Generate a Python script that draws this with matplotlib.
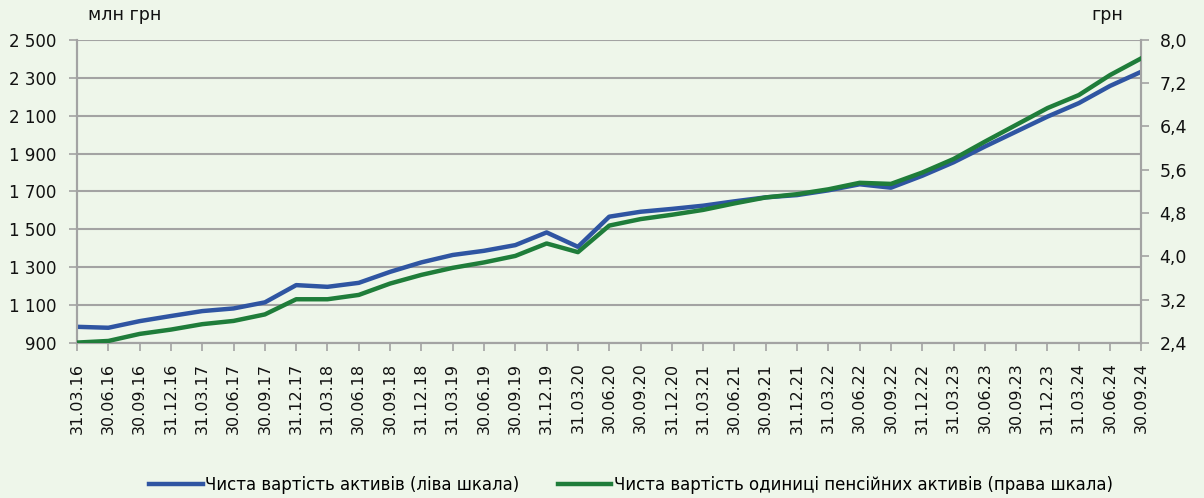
import matplotlib
matplotlib.use("Agg")
import matplotlib.pyplot as plt
from matplotlib.ticker import FixedLocator

dates = ["31.03.16", "30.06.16", "30.09.16", "31.12.16",
         "31.03.17", "30.06.17", "30.09.17", "31.12.17",
         "31.03.18", "30.06.18", "30.09.18", "31.12.18",
         "31.03.19", "30.06.19", "30.09.19", "31.12.19",
         "31.03.20", "30.06.20", "30.09.20", "31.12.20",
         "31.03.21", "30.06.21", "30.09.21", "31.12.21",
         "31.03.22", "30.06.22", "30.09.22", "31.12.22",
         "31.03.23", "30.06.23", "30.09.23", "31.12.23",
         "31.03.24", "30.06.24", "30.09.24"]

net_assets = [986, 981, 1016, 1043, 1069, 1083, 1115, 1206, 1197, 1218,
              1276, 1326, 1365, 1387, 1417, 1484, 1408, 1567, 1593, 1608,
              1625, 1648, 1669, 1681, 1706, 1738, 1720, 1783, 1854, 1937,
              2016, 2095, 2166, 2257, 2332]

unit_value = [2.41, 2.44, 2.57, 2.65, 2.75, 2.81, 2.93, 3.21, 3.21, 3.29,
              3.50, 3.66, 3.79, 3.89, 4.01, 4.24, 4.08, 4.57, 4.69, 4.77,
              4.86, 4.98, 5.09, 5.15, 5.24, 5.36, 5.34, 5.55, 5.80, 6.12,
              6.43, 6.74, 6.98, 7.35, 7.66]

left_ticks = [900, 1100, 1300, 1500, 1700, 1900, 2100, 2300, 2500]
left_labels = ["900", "1 100", "1 300", "1 500", "1 700", "1 900", "2 100", "2 300", "2 500"]
right_ticks = [2.4, 3.2, 4.0, 4.8, 5.6, 6.4, 7.2, 8.0]
right_labels = ["2,4", "3,2", "4,0", "4,8", "5,6", "6,4", "7,2", "8,0"]

label_left = "Чиста вартість активів (ліва шкала)"
label_right = "Чиста вартість одиниці пенсійних активів (права шкала)"

BG = "#EEF6EA"
BLUE = "#2F55A2"
GREEN = "#1F7D3A"
GRID = "#A3A3A3"

fig = plt.figure(figsize=(12.04, 4.98), dpi=100, facecolor=BG)
ax = fig.add_axes([0.064, 0.311, 0.884, 0.609])
ax.set_facecolor(BG)
ax2 = ax.twinx()

x = list(range(len(dates)))
l1, = ax.plot(x, net_assets, color=BLUE, lw=3.2, solid_joinstyle="round", zorder=3)
l2, = ax2.plot(x, unit_value, color=GREEN, lw=3.2, solid_joinstyle="round", zorder=3)

ax.set_xlim(0, len(dates) - 1)
ax.set_ylim(900, 2500)
ax2.set_ylim(2.4, 8.0)

ax.yaxis.set_major_locator(FixedLocator(left_ticks))
ax.set_yticklabels(left_labels, fontsize=12, color="#111111")
ax2.yaxis.set_major_locator(FixedLocator(right_ticks))
ax2.set_yticklabels(right_labels, fontsize=12.5, color="#111111")

ax.set_xticks(x)
ax.set_xticklabels(dates, rotation=90, fontsize=11.5, color="#111111")

ax.grid(axis="y", color=GRID, lw=1.5)
ax.set_axisbelow(True)

for a in (ax, ax2):
    a.spines["top"].set_visible(False)
    for s in ("left", "right", "bottom"):
        a.spines[s].set_color(GRID)
        a.spines[s].set_linewidth(1.5)
    a.tick_params(axis="both", color=GRID, width=1.2, length=6)
ax.tick_params(axis="x", length=6, pad=8)
ax.tick_params(axis="y", pad=9)
ax2.tick_params(axis="y", pad=7)

fig.text(125 / 1204, 1 - 15 / 498, "млн грн", fontsize=12.5, ha="center", va="center", color="#111111")
fig.text(1107 / 1204, 1 - 15 / 498, "грн", fontsize=12.5, ha="center", va="center", color="#111111")

fig.legend([l1, l2], [label_left, label_right], loc="center", bbox_to_anchor=(631 / 1204, 1 - 485 / 498),
           ncol=2, frameon=False, handlelength=3.2, handletextpad=0.15, columnspacing=2.3,
           prop={"size": 12})

fig.savefig("out.png", dpi=100, facecolor=BG)
